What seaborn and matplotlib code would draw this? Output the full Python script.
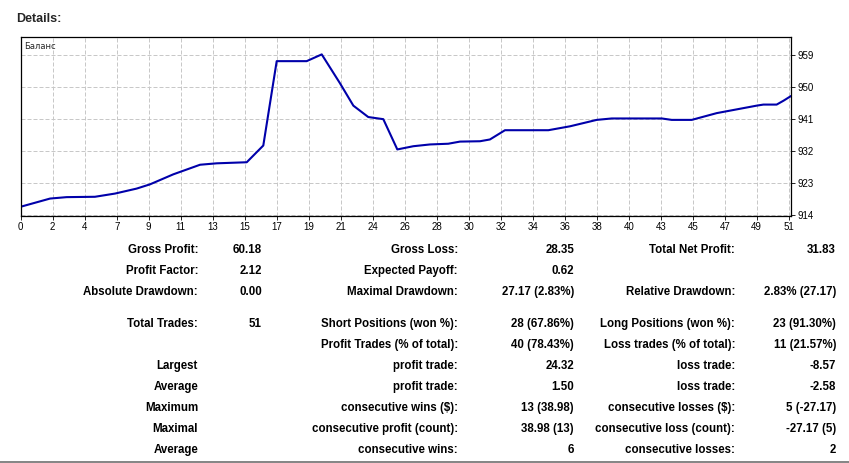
import numpy as np
import seaborn as sns
import matplotlib.pyplot as plt
from matplotlib.lines import Line2D

# balance curve (trade position, balance)
trade_x = [0, 1.95, 3.05, 4.93, 6.26, 7.70, 8.59, 10.13, 11.91, 13.02, 15.01, 16.11,
           17.00, 18.99, 19.99, 21.20, 22.09, 23.08, 24.08, 25.01, 26.07, 27.18, 28.39,
           29.17, 30.50, 31.16, 32.16, 35.04, 36.48, 38.25, 39.25, 42.57, 43.23, 44.56,
           46.22, 48.87, 49.32, 50.20, 50.66, 51.15]
balance = [916.4, 918.7, 919.1, 919.2, 920.1, 921.5, 922.7, 925.5, 928.2, 928.6, 928.9, 933.6,
           957.3, 957.3, 959.2, 951.1, 944.8, 941.6, 941.0, 932.5, 933.4, 933.9, 934.1,
           934.7, 934.8, 935.3, 937.9, 937.9, 939.0, 940.8, 941.2, 941.2, 940.8, 940.8,
           942.7, 944.8, 945.1, 945.1, 946.2, 947.5]

x_labels = ["0", "2", "4", "7", "9", "11", "13", "15", "17", "19", "21", "24", "26",
            "28", "30", "32", "34", "36", "38", "40", "43", "45", "47", "49", "51"]
y_ticks = [914, 923, 932, 941, 950, 959]

col1_labels = ["Gross Profit:", "Profit Factor:", "Absolute Drawdown:", "Total Trades:", "",
               "Largest", "Average", "Maximum", "Maximal", "Average"]
col1_values = ["60.18", "2.12", "0.00", "51", "", "", "", "", "", ""]
col2_labels = ["Gross Loss:", "Expected Payoff:", "Maximal Drawdown:", "Short Positions (won %):",
               "Profit Trades (% of total):", "profit trade:", "profit trade:",
               "consecutive wins ($):", "consecutive profit (count):", "consecutive wins:"]
col2_values = ["28.35", "0.62", "27.17 (2.83%)", "28 (67.86%)", "40 (78.43%)", "24.32", "1.50",
               "13 (38.98)", "38.98 (13)", "6"]
col3_labels = ["Total Net Profit:", "", "Relative Drawdown:", "Long Positions (won %):",
               "Loss trades (% of total):", "loss trade:", "loss trade:",
               "consecutive losses ($):", "consecutive loss (count):", "consecutive losses:"]
col3_values = ["31.83", "", "2.83% (27.17)", "23 (91.30%)", "11 (21.57%)", "-8.57", "-2.58",
               "5 (-27.17)", "-27.17 (5)", "2"]

sns.set_style("white")
plt.rcParams["font.family"] = ["Liberation Sans", "DejaVu Sans"]

W, H = 849, 463
fig = plt.figure(figsize=(W / 100, H / 100), dpi=100)

# chart box in pixels
left, top, right, bottom = 20.7, 37.3, 791.3, 216.0
ax = fig.add_axes([left / W, 1 - bottom / H, (right - left) / W, (bottom - top) / H])

sns.lineplot(x=trade_x, y=balance, ax=ax, color="#0000AA", linewidth=1.5, sort=False)

xmax = 51 * (right - left) / 768
ax.set_xlim(0, xmax)
ax.set_ylim(913.8, 964.0)
ax.set_xticks(np.arange(len(x_labels)) * 51 / 24)
ax.set_xticklabels(x_labels)
ax.set_yticks(y_ticks)
ax.yaxis.tick_right()
ax.tick_params(axis="both", labelsize=7, length=3, width=0.6, pad=1.5, colors="black",
               direction="out")
ax.tick_params(axis="y", left=False, right=True)
ax.tick_params(axis="x", bottom=True)
ax.grid(True, color="#c8c8c8", linestyle=(0, (4, 2)), linewidth=0.72)
for s in ax.spines.values():
    s.set_color("black")
    s.set_linewidth(0.9)
ax.set_xlabel("")
ax.set_ylabel("")
ax.text(0.004, 0.95, "Баланс", transform=ax.transAxes, fontsize=6, va="center", ha="left",
        family=["DejaVu Sans"])

fig.text(16 / W, 1 - 19 / H, "Details:", fontsize=9, fontweight="bold", ha="left", va="center")

row_y = [250, 271, 292, 324, 345, 366, 387, 408, 429, 450]
col_x = [198, 262, 458, 574, 735, 836]
cols = [col1_labels, col1_values, col2_labels, col2_values, col3_labels, col3_values]
for cx, texts in zip(col_x, cols):
    for ry, t in zip(row_y, texts):
        if t:
            fig.text(cx / W, 1 - ry / H, t, fontsize=8.3, fontweight="bold", ha="right",
                     va="center", color="#000000")

fig.add_artist(Line2D([0, 1], [1 - 462 / H, 1 - 462 / H], transform=fig.transFigure,
                      color="#707070", linewidth=1.2))

fig.savefig("out.png", dpi=100)
